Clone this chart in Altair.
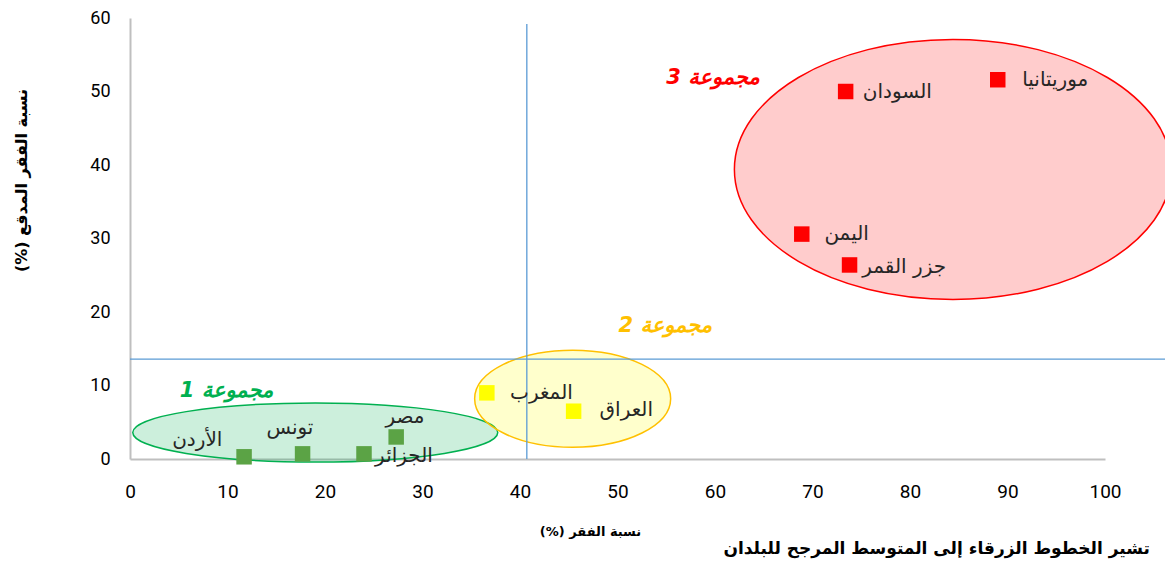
import altair as alt
import pandas as pd

RLM = "\u200f"

# ---- data ----
countries = ["الأردن", "تونس", "الجزائر", "مصر", "المغرب", "العراق", "اليمن", "جزر القمر", "السودان", "موريتانيا"]
poverty = [11.7, 17.7, 24.0, 27.3, 36.6, 45.5, 68.9, 73.8, 73.4, 89.0]
extreme = [0.3, 0.7, 0.7, 3.0, 9.0, 6.5, 30.6, 26.4, 50.0, 51.6]
group = ["1", "1", "1", "1", "2", "2", "3", "3", "3", "3"]

# label anchor positions (data units)
label_x = [6.9, 16.4, 28.1, 28.2, 42.2, 50.9, 73.5, 79.4, 78.7, 94.9]
label_y = [2.6, 4.2, 0.4, 5.7, 9.0, 6.6, 30.6, 26.1, 50.0, 51.5]

# weighted averages (blue lines)
avg_poverty = 40.7
avg_extreme = 13.6

group_names = ["مجموعة 1", "مجموعة 2", "مجموعة 3"]
group_label_x = [9.9, 54.9, 59.8]
group_label_y = [9.3, 18.1, 51.9]
group_colors = ["#00b050", "#ffc000", "#ff0000"]

# ellipses: centre (data), width in px, height/width ratio
ell_x = [19.0, 45.4, 84.4]
ell_y = [3.6, 8.2, 39.4]
ell_w = [365, 196, 437]
ell_ratio = [0.162, 0.495, 0.595]
ell_fill = ["#00b050", "#ffff00", "#ff0000"]
ell_stroke = ["#00b050", "#ffc000", "#ff0000"]

point_colors = {"1": "#5ba345", "2": "#ffff00", "3": "#ff0000"}

pts = pd.DataFrame({"country": countries, "x": poverty, "y": extreme, "g": group,
                    "lx": label_x, "ly": label_y})
pts["color"] = pts["g"].map(point_colors)

ell = pd.DataFrame({
    "x": ell_x, "y": ell_y,
    "size": [w * w for w in ell_w],
    "shape": [f"M -1 0 A 1 {r} 0 1 0 1 0 A 1 {r} 0 1 0 -1 0 Z" for r in ell_ratio],
    "fill": ell_fill, "stroke": ell_stroke,
})
grp = pd.DataFrame({"t": group_names, "x": group_label_x, "y": group_label_y, "c": group_colors})

W, H = 975, 441
xs = alt.Scale(domain=[0, 100], nice=False, zero=False)
ys = alt.Scale(domain=[0, 60], nice=False, zero=False)
tick_font = "Roboto, Liberation Sans, sans-serif"

xaxis = alt.Axis(values=list(range(0, 101, 10)), grid=False, ticks=False, domainColor="#bfbfbf",
                 domainWidth=2, labelFont=tick_font, labelFontSize=19, labelColor="#000000",
                 labelPadding=23, labelFlush=False, labelOverlap=False,
                 title="نسبة الفقر (%)" + RLM, titleFont="DejaVu Sans", titleFontSize=13,
                 titleFontWeight="bold", titleColor="#000000", titleX=460, titleY=72,
                 titleAlign="center", titleBaseline="middle", titleAngle=0)
yaxis = alt.Axis(values=list(range(0, 61, 10)), grid=False, ticks=False, domainColor="#bfbfbf",
                 domainWidth=2, labelFont=tick_font, labelFontSize=18, labelColor="#000000",
                 labelPadding=20, labelFlush=False, labelOverlap=False,
                 title="نسبة الفقر المدقع (%)" + RLM, titleFont="DejaVu Sans",
                 titleFontSize=16, titleFontWeight="bold", titleColor="#000000", titleX=-109,
                 titleY=162, titleAngle=270, titleAlign="center", titleBaseline="middle")

base = alt.Chart(pts)

ellipses = alt.Chart(ell).mark_point(filled=True, fillOpacity=0.2, strokeOpacity=1, strokeWidth=1.5).encode(
    x=alt.X("x:Q", scale=xs, axis=xaxis),
    y=alt.Y("y:Q", scale=ys, axis=yaxis),
    size=alt.Size("size:Q", scale=None),
    shape=alt.Shape("shape:N", scale=None),
    fill=alt.Fill("fill:N", scale=None),
    stroke=alt.Stroke("stroke:N", scale=None),
)

rule_df_v = pd.DataFrame({"x": [avg_poverty], "y": [0], "y2": [59.2]})
rule_df_h = pd.DataFrame({"x": [0], "x2": [106.4], "y": [avg_extreme]})
vline = alt.Chart(rule_df_v).mark_rule(color="#5b9bd5", strokeWidth=1.3).encode(
    x=alt.X("x:Q", scale=xs), y=alt.Y("y:Q", scale=ys), y2="y2:Q")
hline = alt.Chart(rule_df_h).mark_rule(color="#5b9bd5", strokeWidth=1.3).encode(
    x=alt.X("x:Q", scale=xs), x2="x2:Q", y=alt.Y("y:Q", scale=ys))

points = base.mark_point(shape="square", filled=True, opacity=1, size=240).encode(
    x=alt.X("x:Q", scale=xs), y=alt.Y("y:Q", scale=ys),
    fill=alt.Fill("color:N", scale=None))

labels = base.mark_text(font="DejaVu Sans", fontSize=20, color="#262626", align="center",
                        baseline="middle").encode(
    x=alt.X("lx:Q", scale=xs), y=alt.Y("ly:Q", scale=ys), text="country:N")

glabels = alt.Chart(grp).mark_text(font="DejaVu Sans", fontSize=21, fontWeight="bold",
                                   fontStyle="italic", align="center", baseline="middle").encode(
    x=alt.X("x:Q", scale=xs), y=alt.Y("y:Q", scale=ys), text="t:N",
    color=alt.Color("c:N", scale=None))

note_df = pd.DataFrame({"t": ["تشير الخطوط الزرقاء إلى المتوسط المرجح للبلدان"], "x": [104.6], "y": [-12.2]})
note = alt.Chart(note_df).mark_text(font="DejaVu Sans", fontSize=17, fontWeight="bold", color="#000000",
                                    align="right", baseline="middle").encode(
    x=alt.X("x:Q", scale=xs), y=alt.Y("y:Q", scale=ys), text="t:N")

chart = alt.layer(ellipses, vline, hline, points, labels, glabels, note).properties(
    width=W, height=H,
    background="#ffffff",
    autosize=alt.AutoSizeParams(type="none"),
    padding={"left": 122, "top": 10, "right": 60, "bottom": 100},
).configure_view(strokeWidth=0, stroke="transparent")

chart.save("out.html", embed_options={"renderer": "svg", "actions": False})
